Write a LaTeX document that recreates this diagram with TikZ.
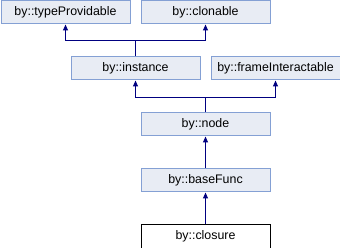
\documentclass[tikz,border=0pt]{standalone}
\usepackage{fontspec}
\setmainfont{Liberation Sans}
\usetikzlibrary{arrows.meta}
\definecolor{boxfill}{HTML}{E8ECF4}
\definecolor{boxline}{HTML}{84A0D4}
\definecolor{arrowc}{HTML}{000080}
\begin{document}
\begin{tikzpicture}[x=1pt,y=-1pt,
  cls/.style={draw=boxline,fill=boxfill,line width=1pt,minimum width=129pt,minimum height=23pt,inner sep=0pt,font=\fontsize{12.4}{14}\selectfont,anchor=north west},
  cur/.style={cls,draw=black,fill=white},
  inh/.style={draw=arrowc,line width=1pt,-{Triangle[width=5pt,length=6pt]}}]
\useasboundingbox (0,0) rectangle (340,248);
\node[cls] (tp) at (0.5,0.5) {by::typeProvidable};
\node[cls] (cl) at (140.5,0.5) {by::clonable};
\node[cls] (in) at (70.5,56.5) {by::instance};
\node[cls] (fi) at (210.5,56.5) {by::frameInteractable};
\node[cls] (nd) at (140.5,112.5) {by::node};
\node[cls] (bf) at (140.5,168.5) {by::baseFunc};
\node[cur] (cs) at (140.5,224.5) {by::closure};
\coordinate (j1) at (135.5,40.5);
\coordinate (j2) at (205.5,97.5);
\draw[draw=arrowc,line width=1pt] (in.north) -- (j1);
\draw[inh] (j1) -| (tp.south);
\draw[inh] (j1) -| (cl.south);
\draw[draw=arrowc,line width=1pt] (nd.north) -- (j2);
\draw[inh] (j2) -| (in.south);
\draw[inh] (j2) -| (fi.south);
\draw[inh] (bf.north) -- (nd.south);
\draw[inh] (cs.north) -- (bf.south);
\end{tikzpicture}
\end{document}
